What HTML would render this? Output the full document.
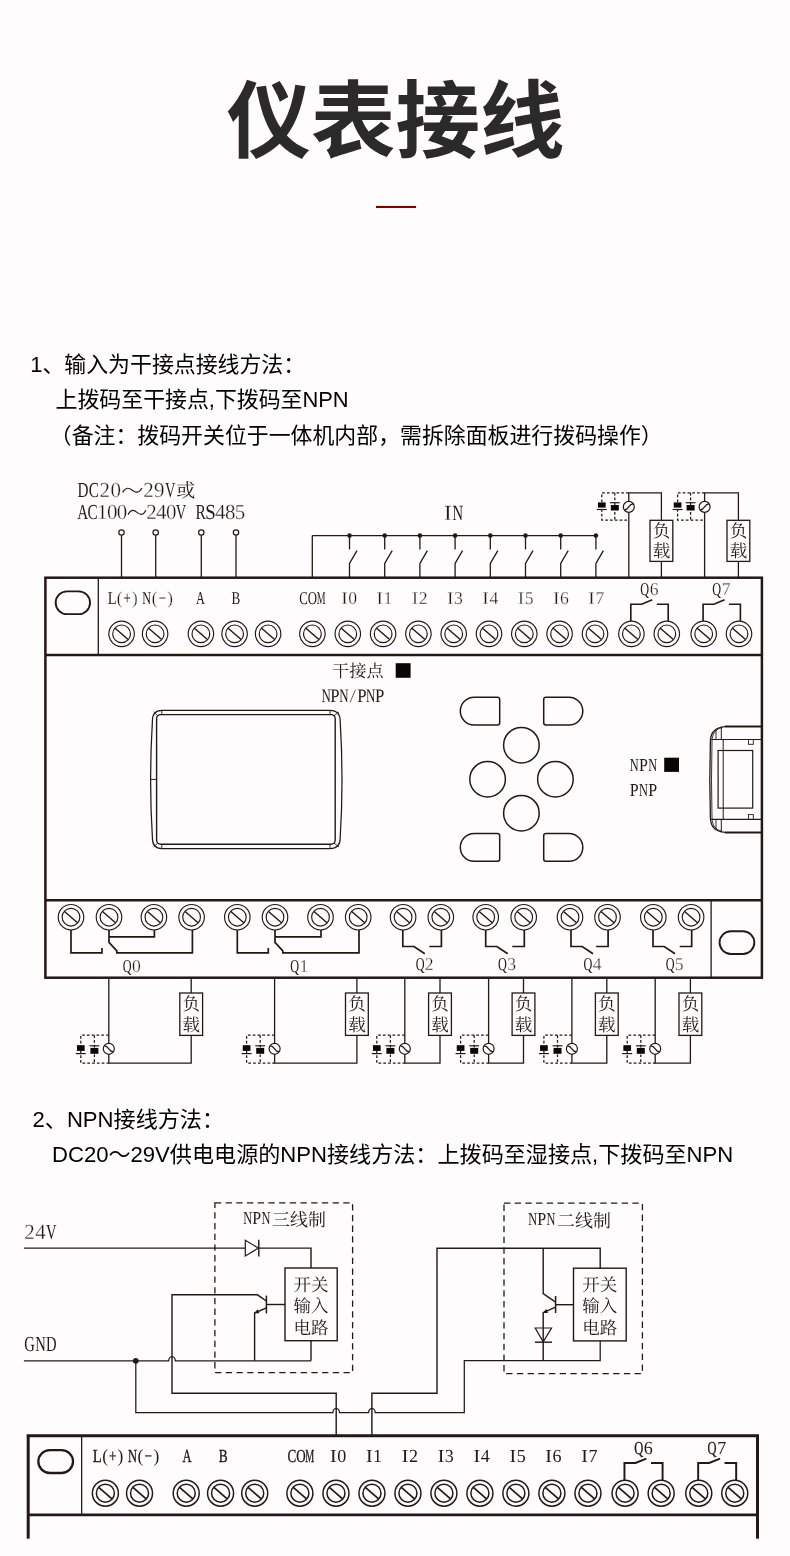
<!DOCTYPE html>
<html lang="zh-CN">
<head>
<meta charset="utf-8">
<title>仪表接线</title>
<style>
html,body{margin:0;padding:0;background:#fefcfd}
body{position:relative;width:790px;height:1556px;overflow:hidden;font-family:"Liberation Sans","Noto Sans CJK SC",sans-serif}
svg{position:absolute;left:0;top:0;display:block}
.lt{font-family:"Liberation Serif",serif;fill:#231815;stroke:none;text-rendering:geometricPrecision}
.cj{font-family:"Liberation Serif","Noto Serif CJK SC",serif;fill:#231815;stroke:none;text-rendering:geometricPrecision}
svg{will-change:transform}
.hv{stroke:#231815;stroke-width:.35px}
.th{stroke:#fefcfd;stroke-width:.28px}
.ln,.ttl{position:absolute;margin:0;padding:0;line-height:1;white-space:nowrap;font-weight:normal;color:#000;font-family:"Liberation Sans","Noto Sans CJK SC",sans-serif;z-index:2}
.ttl{font-weight:bold;color:#2b2a2a}
</style>
</head>
<body>
<h1 class="ttl" style="left:226.62px;top:79.84px;font-size:84.5px;width:340.2px">仪表接线</h1>
<h2 class="ln" style="left:30.27px;top:354.23px;font-size:21.9px;width:278.95px">1、输入为干接点接线方法：</h2>
<p class="ln" style="left:55.58px;top:389.43px;font-size:21.9px;width:296.52px">上拨码至干接点,下拨码至NPN</p>
<p class="ln" style="left:49.78px;top:424.53px;font-size:21.9px;width:617.2px">（备注：拨码开关位于一体机内部，需拆除面板进行拨码操作）</p>
<h2 class="ln" style="left:32.52px;top:1108.95px;font-size:22.1px;width:194.81px">2、NPN接线方法：</h2>
<p class="ln" style="left:51.97px;top:1144.45px;font-size:22.1px;width:679.31px">DC20～29V供电电源的NPN接线方法：上拨码至湿接点,下拨码至NPN</p>
<svg width="790" height="1556" viewBox="0 0 790 1556" fill="none" stroke="#231815" stroke-linecap="butt" stroke-linejoin="miter">
<g id="dev1">
<rect x="45.4" y="577.7" width="716.5" height="400" rx="0" stroke-width="2.5"/>
<line x1="45.4" y1="655.1" x2="761.9" y2="655.1" stroke-width="2.5"/>
<line x1="45.4" y1="900.2" x2="761.9" y2="900.2" stroke-width="2.5"/>
<circle cx="121.6" cy="633.8" r="12.75" stroke-width="1.15"/>
<circle cx="121.6" cy="633.8" r="8.85" stroke-width="1.15"/>
<line x1="115.11" y1="628.16" x2="128.09" y2="639.44" stroke-width="1.4"/>
<circle cx="155.1" cy="633.8" r="12.75" stroke-width="1.15"/>
<circle cx="155.1" cy="633.8" r="8.85" stroke-width="1.15"/>
<line x1="148.61" y1="628.16" x2="161.59" y2="639.44" stroke-width="1.4"/>
<circle cx="200.9" cy="633.8" r="12.75" stroke-width="1.15"/>
<circle cx="200.9" cy="633.8" r="8.85" stroke-width="1.15"/>
<line x1="194.41" y1="628.16" x2="207.39" y2="639.44" stroke-width="1.4"/>
<circle cx="234.6" cy="633.8" r="12.75" stroke-width="1.15"/>
<circle cx="234.6" cy="633.8" r="8.85" stroke-width="1.15"/>
<line x1="228.11" y1="628.16" x2="241.09" y2="639.44" stroke-width="1.4"/>
<circle cx="268.1" cy="633.8" r="12.75" stroke-width="1.15"/>
<circle cx="268.1" cy="633.8" r="8.85" stroke-width="1.15"/>
<line x1="261.61" y1="628.16" x2="274.59" y2="639.44" stroke-width="1.4"/>
<circle cx="312.4" cy="633.8" r="12.75" stroke-width="1.15"/>
<circle cx="312.4" cy="633.8" r="8.85" stroke-width="1.15"/>
<line x1="305.91" y1="628.16" x2="318.89" y2="639.44" stroke-width="1.4"/>
<circle cx="347.8" cy="633.8" r="12.75" stroke-width="1.15"/>
<circle cx="347.8" cy="633.8" r="8.85" stroke-width="1.15"/>
<line x1="341.31" y1="628.16" x2="354.29" y2="639.44" stroke-width="1.4"/>
<circle cx="383.1" cy="633.8" r="12.75" stroke-width="1.15"/>
<circle cx="383.1" cy="633.8" r="8.85" stroke-width="1.15"/>
<line x1="376.61" y1="628.16" x2="389.59" y2="639.44" stroke-width="1.4"/>
<circle cx="418.4" cy="633.8" r="12.75" stroke-width="1.15"/>
<circle cx="418.4" cy="633.8" r="8.85" stroke-width="1.15"/>
<line x1="411.91" y1="628.16" x2="424.89" y2="639.44" stroke-width="1.4"/>
<circle cx="453.7" cy="633.8" r="12.75" stroke-width="1.15"/>
<circle cx="453.7" cy="633.8" r="8.85" stroke-width="1.15"/>
<line x1="447.21" y1="628.16" x2="460.19" y2="639.44" stroke-width="1.4"/>
<circle cx="489" cy="633.8" r="12.75" stroke-width="1.15"/>
<circle cx="489" cy="633.8" r="8.85" stroke-width="1.15"/>
<line x1="482.51" y1="628.16" x2="495.49" y2="639.44" stroke-width="1.4"/>
<circle cx="524.3" cy="633.8" r="12.75" stroke-width="1.15"/>
<circle cx="524.3" cy="633.8" r="8.85" stroke-width="1.15"/>
<line x1="517.81" y1="628.16" x2="530.79" y2="639.44" stroke-width="1.4"/>
<circle cx="559.6" cy="633.8" r="12.75" stroke-width="1.15"/>
<circle cx="559.6" cy="633.8" r="8.85" stroke-width="1.15"/>
<line x1="553.11" y1="628.16" x2="566.09" y2="639.44" stroke-width="1.4"/>
<circle cx="595" cy="633.8" r="12.75" stroke-width="1.15"/>
<circle cx="595" cy="633.8" r="8.85" stroke-width="1.15"/>
<line x1="588.51" y1="628.16" x2="601.49" y2="639.44" stroke-width="1.4"/>
<circle cx="631.4" cy="633.8" r="12.75" stroke-width="1.15"/>
<circle cx="631.4" cy="633.8" r="8.85" stroke-width="1.15"/>
<line x1="624.91" y1="628.16" x2="637.89" y2="639.44" stroke-width="1.4"/>
<circle cx="666.8" cy="633.8" r="12.75" stroke-width="1.15"/>
<circle cx="666.8" cy="633.8" r="8.85" stroke-width="1.15"/>
<line x1="660.31" y1="628.16" x2="673.29" y2="639.44" stroke-width="1.4"/>
<circle cx="703.7" cy="633.8" r="12.75" stroke-width="1.15"/>
<circle cx="703.7" cy="633.8" r="8.85" stroke-width="1.15"/>
<line x1="697.21" y1="628.16" x2="710.19" y2="639.44" stroke-width="1.4"/>
<circle cx="739" cy="633.8" r="12.75" stroke-width="1.15"/>
<circle cx="739" cy="633.8" r="8.85" stroke-width="1.15"/>
<line x1="732.51" y1="628.16" x2="745.49" y2="639.44" stroke-width="1.4"/>
<line x1="98.3" y1="577.7" x2="98.3" y2="654" stroke-width="1.3"/>
<rect x="55.65" y="591.35" width="34.4" height="22.8" rx="11.4" stroke-width="1.9"/>
<g><text transform="scale(0.8,1)" x="140.22" y="603.6" font-size="18" text-anchor="middle" class="lt">L</text><text transform="scale(0.95,1)" x="126.03" y="603.6" font-size="18" text-anchor="middle" class="lt th">(</text><text transform="scale(0.72,1)" x="176.77" y="603.6" font-size="18" text-anchor="middle" class="lt">+</text><text transform="scale(0.95,1)" x="141.92" y="603.6" font-size="18" text-anchor="middle" class="lt th">)</text></g>
<g><text transform="scale(0.68,1)" x="215.74" y="603.6" font-size="18" text-anchor="middle" class="lt">N</text><text transform="scale(0.95,1)" x="162.63" y="603.6" font-size="18" text-anchor="middle" class="lt th">(</text><text transform="scale(0.72,1)" x="225.42" y="603.6" font-size="18" text-anchor="middle" class="lt">−</text><text transform="scale(0.95,1)" x="179.05" y="603.6" font-size="18" text-anchor="middle" class="lt th">)</text></g>
<text transform="scale(0.68,1)" x="294.85" y="603.6" font-size="18" text-anchor="middle" class="lt">A</text>
<text transform="scale(0.73,1)" x="323.29" y="603.6" font-size="18" text-anchor="middle" class="lt">B</text>
<g><text transform="scale(0.71,1)" x="427.61 440" y="603.6" font-size="18" text-anchor="middle" class="lt">CO</text><text transform="scale(0.55,1)" x="584" y="603.6" font-size="18" text-anchor="middle" class="lt">M</text></g>
<g><text transform="scale(1.08,1)" x="318.89" y="603.6" font-size="18" text-anchor="middle" class="lt th">I</text><text transform="scale(0.98,1)" x="359.8" y="603.6" font-size="18" text-anchor="middle" class="lt th">0</text></g>
<g><text transform="scale(1.08,1)" x="351.57" y="603.6" font-size="18" text-anchor="middle" class="lt th">I</text><text transform="scale(0.98,1)" x="395.82" y="603.6" font-size="18" text-anchor="middle" class="lt th">1</text></g>
<g><text transform="scale(1.08,1)" x="384.26" y="603.6" font-size="18" text-anchor="middle" class="lt th">I</text><text transform="scale(0.98,1)" x="431.84" y="603.6" font-size="18" text-anchor="middle" class="lt th">2</text></g>
<g><text transform="scale(1.08,1)" x="416.94" y="603.6" font-size="18" text-anchor="middle" class="lt th">I</text><text transform="scale(0.98,1)" x="467.86" y="603.6" font-size="18" text-anchor="middle" class="lt th">3</text></g>
<g><text transform="scale(1.08,1)" x="449.63" y="603.6" font-size="18" text-anchor="middle" class="lt th">I</text><text transform="scale(0.98,1)" x="503.88" y="603.6" font-size="18" text-anchor="middle" class="lt th">4</text></g>
<g><text transform="scale(1.08,1)" x="482.31" y="603.6" font-size="18" text-anchor="middle" class="lt th">I</text><text transform="scale(0.98,1)" x="539.9" y="603.6" font-size="18" text-anchor="middle" class="lt th">5</text></g>
<g><text transform="scale(1.08,1)" x="515" y="603.6" font-size="18" text-anchor="middle" class="lt th">I</text><text transform="scale(0.98,1)" x="575.92" y="603.6" font-size="18" text-anchor="middle" class="lt th">6</text></g>
<g><text transform="scale(1.08,1)" x="547.78" y="603.6" font-size="18" text-anchor="middle" class="lt th">I</text><text transform="scale(0.98,1)" x="612.04" y="603.6" font-size="18" text-anchor="middle" class="lt th">7</text></g>
<g><text transform="scale(0.68,1)" x="948.16" y="595.4" font-size="18" text-anchor="middle" class="lt">Q</text><text transform="scale(0.98,1)" x="667.6" y="595.4" font-size="18" text-anchor="middle" class="lt th">6</text></g>
<g><text transform="scale(0.68,1)" x="1054.04" y="595.4" font-size="18" text-anchor="middle" class="lt">Q</text><text transform="scale(0.98,1)" x="741.07" y="595.4" font-size="18" text-anchor="middle" class="lt th">7</text></g>
<polyline points="630.8,621 630.8,604.2 641.6,604.2 652.3,599.8" stroke-width="1.65"/>
<polyline points="656.8,604.2 668.2,604.2 668.2,621" stroke-width="1.65"/>
<polyline points="703.1,621 703.1,604.2 713.9,604.2 724.6,599.8" stroke-width="1.65"/>
<polyline points="729,604.2 740.4,604.2 740.4,621" stroke-width="1.65"/>
<circle cx="121.5" cy="532.5" r="2.7" stroke-width="1.2"/>
<line x1="121.5" y1="535.3" x2="121.5" y2="577.7" stroke-width="1.3"/>
<circle cx="155.7" cy="532.5" r="2.7" stroke-width="1.2"/>
<line x1="155.7" y1="535.3" x2="155.7" y2="577.7" stroke-width="1.3"/>
<circle cx="201.3" cy="532.5" r="2.7" stroke-width="1.2"/>
<line x1="201.3" y1="535.3" x2="201.3" y2="577.7" stroke-width="1.3"/>
<circle cx="236" cy="532.5" r="2.7" stroke-width="1.2"/>
<line x1="236" y1="535.3" x2="236" y2="577.7" stroke-width="1.3"/>
<line x1="312.3" y1="535.6" x2="595.9" y2="535.6" stroke-width="1.3"/>
<line x1="312.3" y1="535.6" x2="312.3" y2="577.7" stroke-width="1.3"/>
<circle cx="349.5" cy="535.6" r="2.3" fill="#231815" stroke="none"/>
<line x1="349.5" y1="535.6" x2="349.5" y2="549.4" stroke-width="1.3"/>
<polyline points="357,550.6 349.5,563.4 349.5,577.7" stroke-width="1.3"/>
<circle cx="384.7" cy="535.6" r="2.3" fill="#231815" stroke="none"/>
<line x1="384.7" y1="535.6" x2="384.7" y2="549.4" stroke-width="1.3"/>
<polyline points="392.2,550.6 384.7,563.4 384.7,577.7" stroke-width="1.3"/>
<circle cx="419.9" cy="535.6" r="2.3" fill="#231815" stroke="none"/>
<line x1="419.9" y1="535.6" x2="419.9" y2="549.4" stroke-width="1.3"/>
<polyline points="427.4,550.6 419.9,563.4 419.9,577.7" stroke-width="1.3"/>
<circle cx="455.1" cy="535.6" r="2.3" fill="#231815" stroke="none"/>
<line x1="455.1" y1="535.6" x2="455.1" y2="549.4" stroke-width="1.3"/>
<polyline points="462.6,550.6 455.1,563.4 455.1,577.7" stroke-width="1.3"/>
<circle cx="490.3" cy="535.6" r="2.3" fill="#231815" stroke="none"/>
<line x1="490.3" y1="535.6" x2="490.3" y2="549.4" stroke-width="1.3"/>
<polyline points="497.8,550.6 490.3,563.4 490.3,577.7" stroke-width="1.3"/>
<circle cx="525.5" cy="535.6" r="2.3" fill="#231815" stroke="none"/>
<line x1="525.5" y1="535.6" x2="525.5" y2="549.4" stroke-width="1.3"/>
<polyline points="533,550.6 525.5,563.4 525.5,577.7" stroke-width="1.3"/>
<circle cx="560.7" cy="535.6" r="2.3" fill="#231815" stroke="none"/>
<line x1="560.7" y1="535.6" x2="560.7" y2="549.4" stroke-width="1.3"/>
<polyline points="568.2,550.6 560.7,563.4 560.7,577.7" stroke-width="1.3"/>
<circle cx="595.9" cy="535.6" r="2.3" fill="#231815" stroke="none"/>
<line x1="595.9" y1="535.6" x2="595.9" y2="549.4" stroke-width="1.3"/>
<polyline points="603.4,550.6 595.9,563.4 595.9,577.7" stroke-width="1.3"/>
<polyline points="628.8,577.7 628.8,492.8 661.4,492.8 661.4,577.7" stroke-width="1.3"/>
<polyline points="628.8,492.8 601.8,492.8 601.8,520 628.8,520" stroke-width="1.25" stroke-dasharray="2.7 2.1"/>
<line x1="614.8" y1="492.8" x2="614.8" y2="520" stroke-width="1.25" stroke-dasharray="2.7 2.1"/>
<rect x="597.95" y="502.4" width="7.7" height="5.2" fill="#0d0505" stroke="none"/>
<line x1="596.8" y1="509.5" x2="606.8" y2="509.5" stroke-width="1.2"/>
<line x1="609.9" y1="502.7" x2="619.7" y2="502.7" stroke-width="1.2"/>
<rect x="610.8" y="505" width="8" height="5.5" fill="#0d0505" stroke="none"/>
<circle cx="628.8" cy="506.9" r="5.5" fill="#fefcfd" stroke-width="1.2"/>
<path d="M624.1,509.8 C629.1,510.5 628.5,503.3 633.5,504" stroke-width="1.25"/>
<rect x="650" y="520.3" width="22.8" height="41.1" fill="#fefcfd" stroke-width="1.3"/>
<g><text x="661.4" y="536.7" font-size="17.5" text-anchor="middle" class="cj">负</text><text x="661.4" y="557.2" font-size="17.5" text-anchor="middle" class="cj">载</text></g>
<polyline points="704.6,577.7 704.6,492.8 738.4,492.8 738.4,577.7" stroke-width="1.3"/>
<polyline points="704.6,492.8 677.6,492.8 677.6,520 704.6,520" stroke-width="1.25" stroke-dasharray="2.7 2.1"/>
<line x1="690.6" y1="492.8" x2="690.6" y2="520" stroke-width="1.25" stroke-dasharray="2.7 2.1"/>
<rect x="673.75" y="502.4" width="7.7" height="5.2" fill="#0d0505" stroke="none"/>
<line x1="672.6" y1="509.5" x2="682.6" y2="509.5" stroke-width="1.2"/>
<line x1="685.7" y1="502.7" x2="695.5" y2="502.7" stroke-width="1.2"/>
<rect x="686.6" y="505" width="8" height="5.5" fill="#0d0505" stroke="none"/>
<circle cx="704.6" cy="506.9" r="5.5" fill="#fefcfd" stroke-width="1.2"/>
<path d="M699.9,509.8 C704.9,510.5 704.3,503.3 709.3,504" stroke-width="1.25"/>
<rect x="727" y="520.3" width="22.8" height="41.1" fill="#fefcfd" stroke-width="1.3"/>
<g><text x="738.4" y="536.7" font-size="17.5" text-anchor="middle" class="cj">负</text><text x="738.4" y="557.2" font-size="17.5" text-anchor="middle" class="cj">载</text></g>
<path d="M161.8,710.3 L330,710.3 Q340.4,710.3 340.2,721.3 Q343.8,779.4 340.2,837.5 Q340.4,848.5 330,848.5 L161.8,848.5 Q152.2,848.5 152.4,837.5 Q148.8,779.4 152.4,721.3 Q152.2,710.3 161.8,710.3 Z" stroke-width="1.25"/>
<rect x="156.6" y="714.6" width="178.6" height="129.7" rx="4.2" stroke-width="1.4"/>
<line x1="157.8" y1="715.8" x2="153.6" y2="711.9" stroke-width="0.9"/>
<line x1="161.8" y1="710.3" x2="161.8" y2="714.6" stroke-width="0.9"/>
<line x1="157.8" y1="843.1" x2="153.6" y2="846.9" stroke-width="0.9"/>
<line x1="161.8" y1="848.5" x2="161.8" y2="844.3" stroke-width="0.9"/>
<line x1="334" y1="715.8" x2="339" y2="711.9" stroke-width="0.9"/>
<line x1="330" y1="710.3" x2="330" y2="714.6" stroke-width="0.9"/>
<line x1="334" y1="843.1" x2="339" y2="846.9" stroke-width="0.9"/>
<line x1="330" y1="848.5" x2="330" y2="844.3" stroke-width="0.9"/>
<line x1="150.3" y1="779.4" x2="156.6" y2="779.4" stroke-width="1"/>
<text x="332" y="677.2" font-size="17.2" class="cj">干接点</text>
<rect x="395.7" y="663.2" width="14.9" height="14.6" fill="#0d0505" stroke="none"/>
<g><text transform="scale(0.68,1)" x="479.52" y="701.9" font-size="19" text-anchor="middle" class="lt">N</text><text transform="scale(0.88,1)" x="380.7" y="701.9" font-size="19" text-anchor="middle" class="lt">P</text><text transform="scale(0.68,1)" x="505.82" y="701.9" font-size="19" text-anchor="middle" class="lt">N</text><text transform="scale(1.25,1)" x="282.32" y="701.9" font-size="19" text-anchor="middle" class="lt th">/</text><text transform="scale(0.88,1)" x="411.19" y="701.9" font-size="19" text-anchor="middle" class="lt">P</text><text transform="scale(0.68,1)" x="545.27" y="701.9" font-size="19" text-anchor="middle" class="lt">N</text><text transform="scale(0.88,1)" x="431.51" y="701.9" font-size="19" text-anchor="middle" class="lt">P</text></g>
<g><text transform="scale(0.68,1)" x="932.65" y="770.8" font-size="18.2" text-anchor="middle" class="lt">N</text><text transform="scale(0.88,1)" x="731.14" y="770.8" font-size="18.2" text-anchor="middle" class="lt">P</text><text transform="scale(0.68,1)" x="959.71" y="770.8" font-size="18.2" text-anchor="middle" class="lt">N</text></g>
<rect x="664.2" y="757.7" width="14.8" height="14.2" fill="#0d0505" stroke="none"/>
<g><text transform="scale(0.88,1)" x="720.68" y="795.7" font-size="18.2" text-anchor="middle" class="lt">P</text><text transform="scale(0.68,1)" x="946.18" y="795.7" font-size="18.2" text-anchor="middle" class="lt">N</text><text transform="scale(0.88,1)" x="741.59" y="795.7" font-size="18.2" text-anchor="middle" class="lt">P</text></g>
<path d="M474.2,697.2 L497.5,697.2 Q499.7,697.2 499.7,699.4 L499.7,722.8 Q499.7,725 497.5,725 L474.2,725 A13.9,13.9 0 0 1 474.2,697.2 Z" stroke-width="1.5"/>
<path d="M568.9,697.2 L545.9,697.2 Q543.7,697.2 543.7,699.4 L543.7,722.8 Q543.7,725 545.9,725 L568.9,725 A13.9,13.9 0 0 0 568.9,697.2 Z" stroke-width="1.5"/>
<path d="M474.2,833.5 L497.5,833.5 Q499.7,833.5 499.7,835.7 L499.7,859.1 Q499.7,861.3 497.5,861.3 L474.2,861.3 A13.9,13.9 0 0 1 474.2,833.5 Z" stroke-width="1.5"/>
<path d="M568.9,833.5 L545.9,833.5 Q543.7,833.5 543.7,835.7 L543.7,859.1 Q543.7,861.3 545.9,861.3 L568.9,861.3 A13.9,13.9 0 0 0 568.9,833.5 Z" stroke-width="1.5"/>
<circle cx="521.4" cy="745.2" r="17.8" stroke-width="1.5"/>
<circle cx="487.6" cy="779.2" r="17.8" stroke-width="1.5"/>
<circle cx="555.4" cy="779.2" r="17.8" stroke-width="1.5"/>
<circle cx="521.4" cy="813.2" r="17.8" stroke-width="1.5"/>
<line x1="724.8" y1="726.6" x2="761.9" y2="726.6" stroke-width="2"/>
<line x1="724.8" y1="832.4" x2="761.9" y2="832.4" stroke-width="2"/>
<path d="M724.8,726.6 C715,727.5 710.6,733 710.4,741 Q709.2,779.5 710.4,818 C710.6,826 715,831.5 724.8,832.4" stroke-width="1.3"/>
<path d="M722,727.6 C715,729.5 712.3,734 712,741 Q711,779.5 712,818 C712.3,825 715,829.5 722,831.4" stroke-width="0.9"/>
<line x1="716" y1="729.5" x2="716" y2="739.5" stroke-width="0.9"/>
<line x1="716" y1="819.4" x2="716" y2="829.5" stroke-width="0.9"/>
<line x1="721.3" y1="727.2" x2="721.3" y2="739.5" stroke-width="1"/>
<line x1="721.3" y1="819.4" x2="721.3" y2="831.8" stroke-width="1"/>
<line x1="711.2" y1="739.5" x2="761.9" y2="739.5" stroke-width="1.1"/>
<line x1="711.2" y1="819.4" x2="761.9" y2="819.4" stroke-width="1.1"/>
<rect x="718.1" y="750.5" width="34.6" height="57.6" rx="0" stroke-width="1.2"/>
<line x1="723.2" y1="739.5" x2="723.2" y2="819.4" stroke-width="1"/>
<rect x="748.5" y="739.5" width="4.8" height="4.8" rx="0" stroke-width="0.9"/>
<rect x="748.5" y="814.6" width="4.8" height="4.8" rx="0" stroke-width="0.9"/>
<line x1="711.1" y1="900.2" x2="711.1" y2="977.7" stroke-width="1.3"/>
<rect x="719.55" y="931.25" width="34.8" height="22.7" rx="11.35" stroke-width="1.9"/>
<circle cx="71" cy="917.2" r="12.75" stroke-width="1.15"/>
<circle cx="71" cy="917.2" r="8.85" stroke-width="1.15"/>
<line x1="64.51" y1="911.56" x2="77.49" y2="922.84" stroke-width="1.4"/>
<circle cx="109" cy="917.2" r="12.75" stroke-width="1.15"/>
<circle cx="109" cy="917.2" r="8.85" stroke-width="1.15"/>
<line x1="102.51" y1="911.56" x2="115.49" y2="922.84" stroke-width="1.4"/>
<circle cx="153.9" cy="917.2" r="12.75" stroke-width="1.15"/>
<circle cx="153.9" cy="917.2" r="8.85" stroke-width="1.15"/>
<line x1="147.41" y1="911.56" x2="160.39" y2="922.84" stroke-width="1.4"/>
<circle cx="191.6" cy="917.2" r="12.75" stroke-width="1.15"/>
<circle cx="191.6" cy="917.2" r="8.85" stroke-width="1.15"/>
<line x1="185.11" y1="911.56" x2="198.09" y2="922.84" stroke-width="1.4"/>
<polyline points="71,930 71,952.8 102,952.8 102,948" stroke-width="1.7"/>
<polyline points="109,930 109,942.4 116.8,950.8 116.8,952.8 192.4,952.8 192.4,930" stroke-width="1.7"/>
<polyline points="109,936.8 154.4,936.8 154.4,930" stroke-width="1.7"/>
<circle cx="237.3" cy="917.2" r="12.75" stroke-width="1.15"/>
<circle cx="237.3" cy="917.2" r="8.85" stroke-width="1.15"/>
<line x1="230.81" y1="911.56" x2="243.79" y2="922.84" stroke-width="1.4"/>
<circle cx="275" cy="917.2" r="12.75" stroke-width="1.15"/>
<circle cx="275" cy="917.2" r="8.85" stroke-width="1.15"/>
<line x1="268.51" y1="911.56" x2="281.49" y2="922.84" stroke-width="1.4"/>
<circle cx="320.5" cy="917.2" r="12.75" stroke-width="1.15"/>
<circle cx="320.5" cy="917.2" r="8.85" stroke-width="1.15"/>
<line x1="314.01" y1="911.56" x2="326.99" y2="922.84" stroke-width="1.4"/>
<circle cx="358.2" cy="917.2" r="12.75" stroke-width="1.15"/>
<circle cx="358.2" cy="917.2" r="8.85" stroke-width="1.15"/>
<line x1="351.71" y1="911.56" x2="364.69" y2="922.84" stroke-width="1.4"/>
<polyline points="237.3,930 237.3,952.8 268.3,952.8 268.3,948" stroke-width="1.7"/>
<polyline points="275,930 275,942.4 282.8,950.8 282.8,952.8 359,952.8 359,930" stroke-width="1.7"/>
<polyline points="275,936.8 321,936.8 321,930" stroke-width="1.7"/>
<g><text transform="scale(0.68,1)" x="186.91" y="971.6" font-size="18" text-anchor="middle" class="lt">Q</text><text transform="scale(0.98,1)" x="139.29" y="971.6" font-size="18" text-anchor="middle" class="lt th">0</text></g>
<g><text transform="scale(0.68,1)" x="433.31" y="971.6" font-size="18" text-anchor="middle" class="lt">Q</text><text transform="scale(0.98,1)" x="310.15" y="971.6" font-size="18" text-anchor="middle" class="lt th">1</text></g>
<circle cx="403.1" cy="917.2" r="12.75" stroke-width="1.15"/>
<circle cx="403.1" cy="917.2" r="8.85" stroke-width="1.15"/>
<line x1="396.61" y1="911.56" x2="409.59" y2="922.84" stroke-width="1.4"/>
<circle cx="440.8" cy="917.2" r="12.75" stroke-width="1.15"/>
<circle cx="440.8" cy="917.2" r="8.85" stroke-width="1.15"/>
<line x1="434.31" y1="911.56" x2="447.29" y2="922.84" stroke-width="1.4"/>
<polyline points="402.8,930 402.8,946.5 414,946.5 424.8,953.8" stroke-width="1.7"/>
<polyline points="429.4,946.5 441.4,946.5 441.4,930" stroke-width="1.7"/>
<g><text transform="scale(0.68,1)" x="617.83" y="970" font-size="18" text-anchor="middle" class="lt">Q</text><text transform="scale(0.98,1)" x="437.93" y="970" font-size="18" text-anchor="middle" class="lt th">2</text></g>
<circle cx="485.7" cy="917.2" r="12.75" stroke-width="1.15"/>
<circle cx="485.7" cy="917.2" r="8.85" stroke-width="1.15"/>
<line x1="479.21" y1="911.56" x2="492.19" y2="922.84" stroke-width="1.4"/>
<circle cx="523.7" cy="917.2" r="12.75" stroke-width="1.15"/>
<circle cx="523.7" cy="917.2" r="8.85" stroke-width="1.15"/>
<line x1="517.21" y1="911.56" x2="530.19" y2="922.84" stroke-width="1.4"/>
<polyline points="485.7,930 485.7,946.5 496.9,946.5 507.7,953.8" stroke-width="1.7"/>
<polyline points="512.3,946.5 524.3,946.5 524.3,930" stroke-width="1.7"/>
<g><text transform="scale(0.68,1)" x="738.9" y="970" font-size="18" text-anchor="middle" class="lt">Q</text><text transform="scale(0.98,1)" x="521.99" y="970" font-size="18" text-anchor="middle" class="lt th">3</text></g>
<circle cx="570" cy="917.2" r="12.75" stroke-width="1.15"/>
<circle cx="570" cy="917.2" r="8.85" stroke-width="1.15"/>
<line x1="563.51" y1="911.56" x2="576.49" y2="922.84" stroke-width="1.4"/>
<circle cx="607.5" cy="917.2" r="12.75" stroke-width="1.15"/>
<circle cx="607.5" cy="917.2" r="8.85" stroke-width="1.15"/>
<line x1="601.01" y1="911.56" x2="613.99" y2="922.84" stroke-width="1.4"/>
<polyline points="571,930 571,946.5 582.2,946.5 593,953.8" stroke-width="1.7"/>
<polyline points="596.1,946.5 608.1,946.5 608.1,930" stroke-width="1.7"/>
<g><text transform="scale(0.68,1)" x="864.56" y="970" font-size="18" text-anchor="middle" class="lt">Q</text><text transform="scale(0.98,1)" x="609.29" y="970" font-size="18" text-anchor="middle" class="lt th">4</text></g>
<circle cx="653.3" cy="917.2" r="12.75" stroke-width="1.15"/>
<circle cx="653.3" cy="917.2" r="8.85" stroke-width="1.15"/>
<line x1="646.81" y1="911.56" x2="659.79" y2="922.84" stroke-width="1.4"/>
<circle cx="691.1" cy="917.2" r="12.75" stroke-width="1.15"/>
<circle cx="691.1" cy="917.2" r="8.85" stroke-width="1.15"/>
<line x1="684.61" y1="911.56" x2="697.59" y2="922.84" stroke-width="1.4"/>
<polyline points="653,930 653,946.5 664.2,946.5 675,953.8" stroke-width="1.7"/>
<polyline points="679.7,946.5 691.7,946.5 691.7,930" stroke-width="1.7"/>
<g><text transform="scale(0.68,1)" x="985.62" y="970" font-size="18" text-anchor="middle" class="lt">Q</text><text transform="scale(0.98,1)" x="693.14" y="970" font-size="18" text-anchor="middle" class="lt th">5</text></g>
<polyline points="108.8,977.7 108.8,1063.1 191.2,1063.1 191.2,977.7" stroke-width="1.3"/>
<polyline points="108.8,1035.2 80.8,1035.2 80.8,1063.1 108.8,1063.1" stroke-width="1.25" stroke-dasharray="2.7 2.1"/>
<line x1="94.4" y1="1035.2" x2="94.4" y2="1063.1" stroke-width="1.25" stroke-dasharray="2.7 2.1"/>
<rect x="76.95" y="1045.2" width="7.7" height="5.7" fill="#0d0505" stroke="none"/>
<line x1="75.8" y1="1053.6" x2="85.8" y2="1053.6" stroke-width="1.2"/>
<line x1="89.5" y1="1045.8" x2="99.3" y2="1045.8" stroke-width="1.2"/>
<rect x="90.4" y="1047.9" width="8" height="5.9" fill="#0d0505" stroke="none"/>
<circle cx="108.8" cy="1048.8" r="5.5" fill="#fefcfd" stroke-width="1.2"/>
<path d="M104.1,1045.9 C109.1,1045.2 108.5,1052.4 113.5,1051.7" stroke-width="1.25"/>
<rect x="179.8" y="993" width="22.8" height="42.4" fill="#fefcfd" stroke-width="1.3"/>
<g><text x="191.2" y="1009.8" font-size="17.5" text-anchor="middle" class="cj">负</text><text x="191.2" y="1030.7" font-size="17.5" text-anchor="middle" class="cj">载</text></g>
<polyline points="274.6,977.7 274.6,1063.1 356.9,1063.1 356.9,977.7" stroke-width="1.3"/>
<polyline points="274.6,1035.2 246.6,1035.2 246.6,1063.1 274.6,1063.1" stroke-width="1.25" stroke-dasharray="2.7 2.1"/>
<line x1="260.2" y1="1035.2" x2="260.2" y2="1063.1" stroke-width="1.25" stroke-dasharray="2.7 2.1"/>
<rect x="242.75" y="1045.2" width="7.7" height="5.7" fill="#0d0505" stroke="none"/>
<line x1="241.6" y1="1053.6" x2="251.6" y2="1053.6" stroke-width="1.2"/>
<line x1="255.3" y1="1045.8" x2="265.1" y2="1045.8" stroke-width="1.2"/>
<rect x="256.2" y="1047.9" width="8" height="5.9" fill="#0d0505" stroke="none"/>
<circle cx="274.6" cy="1048.8" r="5.5" fill="#fefcfd" stroke-width="1.2"/>
<path d="M269.9,1045.9 C274.9,1045.2 274.3,1052.4 279.3,1051.7" stroke-width="1.25"/>
<rect x="345.5" y="993" width="22.8" height="42.4" fill="#fefcfd" stroke-width="1.3"/>
<g><text x="356.9" y="1009.8" font-size="17.5" text-anchor="middle" class="cj">负</text><text x="356.9" y="1030.7" font-size="17.5" text-anchor="middle" class="cj">载</text></g>
<polyline points="404.8,977.7 404.8,1063.1 440,1063.1 440,977.7" stroke-width="1.3"/>
<polyline points="404.8,1035.2 376.8,1035.2 376.8,1063.1 404.8,1063.1" stroke-width="1.25" stroke-dasharray="2.7 2.1"/>
<line x1="390.4" y1="1035.2" x2="390.4" y2="1063.1" stroke-width="1.25" stroke-dasharray="2.7 2.1"/>
<rect x="372.95" y="1045.2" width="7.7" height="5.7" fill="#0d0505" stroke="none"/>
<line x1="371.8" y1="1053.6" x2="381.8" y2="1053.6" stroke-width="1.2"/>
<line x1="385.5" y1="1045.8" x2="395.3" y2="1045.8" stroke-width="1.2"/>
<rect x="386.4" y="1047.9" width="8" height="5.9" fill="#0d0505" stroke="none"/>
<circle cx="404.8" cy="1048.8" r="5.5" fill="#fefcfd" stroke-width="1.2"/>
<path d="M400.1,1045.9 C405.1,1045.2 404.5,1052.4 409.5,1051.7" stroke-width="1.25"/>
<rect x="428.6" y="993" width="22.8" height="42.4" fill="#fefcfd" stroke-width="1.3"/>
<g><text x="440" y="1009.8" font-size="17.5" text-anchor="middle" class="cj">负</text><text x="440" y="1030.7" font-size="17.5" text-anchor="middle" class="cj">载</text></g>
<polyline points="488.6,977.7 488.6,1063.1 523.5,1063.1 523.5,977.7" stroke-width="1.3"/>
<polyline points="488.6,1035.2 460.6,1035.2 460.6,1063.1 488.6,1063.1" stroke-width="1.25" stroke-dasharray="2.7 2.1"/>
<line x1="474.2" y1="1035.2" x2="474.2" y2="1063.1" stroke-width="1.25" stroke-dasharray="2.7 2.1"/>
<rect x="456.75" y="1045.2" width="7.7" height="5.7" fill="#0d0505" stroke="none"/>
<line x1="455.6" y1="1053.6" x2="465.6" y2="1053.6" stroke-width="1.2"/>
<line x1="469.3" y1="1045.8" x2="479.1" y2="1045.8" stroke-width="1.2"/>
<rect x="470.2" y="1047.9" width="8" height="5.9" fill="#0d0505" stroke="none"/>
<circle cx="488.6" cy="1048.8" r="5.5" fill="#fefcfd" stroke-width="1.2"/>
<path d="M483.9,1045.9 C488.9,1045.2 488.3,1052.4 493.3,1051.7" stroke-width="1.25"/>
<rect x="512.1" y="993" width="22.8" height="42.4" fill="#fefcfd" stroke-width="1.3"/>
<g><text x="523.5" y="1009.8" font-size="17.5" text-anchor="middle" class="cj">负</text><text x="523.5" y="1030.7" font-size="17.5" text-anchor="middle" class="cj">载</text></g>
<polyline points="571.9,977.7 571.9,1063.1 606.8,1063.1 606.8,977.7" stroke-width="1.3"/>
<polyline points="571.9,1035.2 543.9,1035.2 543.9,1063.1 571.9,1063.1" stroke-width="1.25" stroke-dasharray="2.7 2.1"/>
<line x1="557.5" y1="1035.2" x2="557.5" y2="1063.1" stroke-width="1.25" stroke-dasharray="2.7 2.1"/>
<rect x="540.05" y="1045.2" width="7.7" height="5.7" fill="#0d0505" stroke="none"/>
<line x1="538.9" y1="1053.6" x2="548.9" y2="1053.6" stroke-width="1.2"/>
<line x1="552.6" y1="1045.8" x2="562.4" y2="1045.8" stroke-width="1.2"/>
<rect x="553.5" y="1047.9" width="8" height="5.9" fill="#0d0505" stroke="none"/>
<circle cx="571.9" cy="1048.8" r="5.5" fill="#fefcfd" stroke-width="1.2"/>
<path d="M567.2,1045.9 C572.2,1045.2 571.6,1052.4 576.6,1051.7" stroke-width="1.25"/>
<rect x="595.4" y="993" width="22.8" height="42.4" fill="#fefcfd" stroke-width="1.3"/>
<g><text x="606.8" y="1009.8" font-size="17.5" text-anchor="middle" class="cj">负</text><text x="606.8" y="1030.7" font-size="17.5" text-anchor="middle" class="cj">载</text></g>
<polyline points="655.2,977.7 655.2,1063.1 690.4,1063.1 690.4,977.7" stroke-width="1.3"/>
<polyline points="655.2,1035.2 627.2,1035.2 627.2,1063.1 655.2,1063.1" stroke-width="1.25" stroke-dasharray="2.7 2.1"/>
<line x1="640.8" y1="1035.2" x2="640.8" y2="1063.1" stroke-width="1.25" stroke-dasharray="2.7 2.1"/>
<rect x="623.35" y="1045.2" width="7.7" height="5.7" fill="#0d0505" stroke="none"/>
<line x1="622.2" y1="1053.6" x2="632.2" y2="1053.6" stroke-width="1.2"/>
<line x1="635.9" y1="1045.8" x2="645.7" y2="1045.8" stroke-width="1.2"/>
<rect x="636.8" y="1047.9" width="8" height="5.9" fill="#0d0505" stroke="none"/>
<circle cx="655.2" cy="1048.8" r="5.5" fill="#fefcfd" stroke-width="1.2"/>
<path d="M650.5,1045.9 C655.5,1045.2 654.9,1052.4 659.9,1051.7" stroke-width="1.25"/>
<rect x="679" y="993" width="22.8" height="42.4" fill="#fefcfd" stroke-width="1.3"/>
<g><text x="690.4" y="1009.8" font-size="17.5" text-anchor="middle" class="cj">负</text><text x="690.4" y="1030.7" font-size="17.5" text-anchor="middle" class="cj">载</text></g>
</g>
<g id="npn">
<g><text transform="scale(0.98,1)" x="30.24 41.33" y="1238.5" font-size="21.5" text-anchor="middle" class="lt th">24</text><text transform="scale(0.68,1)" x="75.54" y="1238.5" font-size="21.5" text-anchor="middle" class="lt">V</text></g>
<text transform="scale(0.68,1)" x="43.58 59.56 75.54" y="1350.6" font-size="21.5" text-anchor="middle" class="lt">GND</text>
<rect x="214.9" y="1202.8" width="137.7" height="169.8" rx="0" stroke-width="1.3" stroke-dasharray="6.3 4.4"/>
<line x1="23.9" y1="1248.1" x2="245.3" y2="1248.1" stroke-width="1.42"/>
<path d="M245.3,1240.2 L258.4,1248.1 L245.3,1256.0 Z" stroke-width="1.2"/>
<line x1="258.8" y1="1239.8" x2="258.8" y2="1256.4" stroke-width="1.42"/>
<polyline points="258.8,1248.1 311,1248.1 311,1268" stroke-width="1.42"/>
<rect x="285" y="1268" width="52.2" height="72.7" rx="0" stroke-width="1.4"/>
<polyline points="311,1340.7 311,1360.8" stroke-width="1.42"/>
<path d="M23.9,1360.8 L168.7,1360.8 A3.3,4.3 0 0 1 175.3,1360.8 L311,1360.8" stroke-width="1.25"/>
<circle cx="135.8" cy="1360.8" r="2.9" fill="#231815" stroke="none"/>
<line x1="266.4" y1="1295.6" x2="266.4" y2="1313.4" stroke-width="1.5"/>
<line x1="266.4" y1="1304.5" x2="285" y2="1304.5" stroke-width="1.42"/>
<polyline points="266.4,1301 257.4,1294.8 172,1294.8 172,1393.2 336.2,1393.2 336.2,1435.8" stroke-width="1.42"/>
<polyline points="266.4,1307.8 254.6,1313 254.6,1360.8" stroke-width="1.42"/>
<path d="M254,1313.3 L257.72,1309.35 L259.42,1313.19 Z" fill="#231815" stroke="none"/>
<path d="M135.8,1360.8 L135.8,1412.7 L332.9,1412.7 A3.3,4.3 0 0 1 339.5,1412.7 L368.6,1412.7 A3.3,4.3 0 0 1 375.2,1412.7 L464.3,1412.7 L464.3,1360.7 L600.2,1360.7 L600.2,1340.9" stroke-width="1.25"/>
<polyline points="371.9,1435.8 371.9,1393.2 437,1393.2 437,1248.2 600.2,1248.2 600.2,1268.2" stroke-width="1.42"/>
<rect x="504" y="1203.2" width="138.4" height="170.4" rx="0" stroke-width="1.3" stroke-dasharray="6.3 4.4"/>
<rect x="573.5" y="1268.2" width="52.7" height="72.7" rx="0" stroke-width="1.4"/>
<line x1="555.6" y1="1296" x2="555.6" y2="1313" stroke-width="1.5"/>
<line x1="555.6" y1="1304.7" x2="573.5" y2="1304.7" stroke-width="1.42"/>
<polyline points="543.2,1248.2 543.2,1293.6 555.6,1302.2" stroke-width="1.42"/>
<polyline points="555.6,1307.2 543.2,1312.6 543.2,1360.7" stroke-width="1.42"/>
<path d="M542.6,1313 L546.31,1309.05 L548.02,1312.88 Z" fill="#231815" stroke="none"/>
<path d="M535.2,1328.0 L551.6,1328.0 L543.2,1341.8 Z" stroke-width="1.2"/>
<line x1="535" y1="1342.2" x2="552" y2="1342.2" stroke-width="1.42"/>
<g><text x="310.9" y="1290.5" font-size="17.5" text-anchor="middle" class="cj">开关</text><text x="310.9" y="1312" font-size="17.5" text-anchor="middle" class="cj">输入</text><text x="310.9" y="1333.5" font-size="17.5" text-anchor="middle" class="cj">电路</text></g>
<g><text x="599.7" y="1290.7" font-size="17.5" text-anchor="middle" class="cj">开关</text><text x="599.7" y="1312.2" font-size="17.5" text-anchor="middle" class="cj">输入</text><text x="599.7" y="1333.7" font-size="17.5" text-anchor="middle" class="cj">电路</text></g>
<g><text transform="scale(0.68,1)" x="364.12" y="1224.4" font-size="18.2" text-anchor="middle" class="lt">N</text><text transform="scale(0.88,1)" x="291.82" y="1224.4" font-size="18.2" text-anchor="middle" class="lt">P</text><text transform="scale(0.68,1)" x="391.18" y="1224.4" font-size="18.2" text-anchor="middle" class="lt">N</text></g>
<text x="272" y="1226.2" font-size="18" class="cj">三线制</text>
<g><text transform="scale(0.68,1)" x="783.24" y="1224.8" font-size="18.2" text-anchor="middle" class="lt">N</text><text transform="scale(0.88,1)" x="615.68" y="1224.8" font-size="18.2" text-anchor="middle" class="lt">P</text><text transform="scale(0.68,1)" x="810.29" y="1224.8" font-size="18.2" text-anchor="middle" class="lt">N</text></g>
<text x="557" y="1226.6" font-size="18" class="cj">二线制</text>
</g>
<g id="dev2">
<line x1="26.7" y1="1435.8" x2="759" y2="1435.8" stroke-width="3"/>
<line x1="28.2" y1="1514.9" x2="757.5" y2="1514.9" stroke-width="2.6"/>
<line x1="28.2" y1="1435.8" x2="28.2" y2="1538.7" stroke-width="3"/>
<line x1="757.5" y1="1435.8" x2="757.5" y2="1538.7" stroke-width="3"/>
<circle cx="105.38" cy="1493.19" r="13" stroke-width="1.5"/>
<circle cx="105.38" cy="1493.19" r="9.02" stroke-width="1.5"/>
<line x1="98.76" y1="1487.44" x2="111.99" y2="1498.94" stroke-width="1.75"/>
<circle cx="139.53" cy="1493.19" r="13" stroke-width="1.5"/>
<circle cx="139.53" cy="1493.19" r="9.02" stroke-width="1.5"/>
<line x1="132.91" y1="1487.44" x2="146.14" y2="1498.94" stroke-width="1.75"/>
<circle cx="186.22" cy="1493.19" r="13" stroke-width="1.5"/>
<circle cx="186.22" cy="1493.19" r="9.02" stroke-width="1.5"/>
<line x1="179.6" y1="1487.44" x2="192.83" y2="1498.94" stroke-width="1.75"/>
<circle cx="220.57" cy="1493.19" r="13" stroke-width="1.5"/>
<circle cx="220.57" cy="1493.19" r="9.02" stroke-width="1.5"/>
<line x1="213.95" y1="1487.44" x2="227.19" y2="1498.94" stroke-width="1.75"/>
<circle cx="254.72" cy="1493.19" r="13" stroke-width="1.5"/>
<circle cx="254.72" cy="1493.19" r="9.02" stroke-width="1.5"/>
<line x1="248.1" y1="1487.44" x2="261.34" y2="1498.94" stroke-width="1.75"/>
<circle cx="299.88" cy="1493.19" r="13" stroke-width="1.5"/>
<circle cx="299.88" cy="1493.19" r="9.02" stroke-width="1.5"/>
<line x1="293.26" y1="1487.44" x2="306.5" y2="1498.94" stroke-width="1.75"/>
<circle cx="335.97" cy="1493.19" r="13" stroke-width="1.5"/>
<circle cx="335.97" cy="1493.19" r="9.02" stroke-width="1.5"/>
<line x1="329.35" y1="1487.44" x2="342.58" y2="1498.94" stroke-width="1.75"/>
<circle cx="371.95" cy="1493.19" r="13" stroke-width="1.5"/>
<circle cx="371.95" cy="1493.19" r="9.02" stroke-width="1.5"/>
<line x1="365.33" y1="1487.44" x2="378.57" y2="1498.94" stroke-width="1.75"/>
<circle cx="407.94" cy="1493.19" r="13" stroke-width="1.5"/>
<circle cx="407.94" cy="1493.19" r="9.02" stroke-width="1.5"/>
<line x1="401.32" y1="1487.44" x2="414.55" y2="1498.94" stroke-width="1.75"/>
<circle cx="443.92" cy="1493.19" r="13" stroke-width="1.5"/>
<circle cx="443.92" cy="1493.19" r="9.02" stroke-width="1.5"/>
<line x1="437.3" y1="1487.44" x2="450.54" y2="1498.94" stroke-width="1.75"/>
<circle cx="479.91" cy="1493.19" r="13" stroke-width="1.5"/>
<circle cx="479.91" cy="1493.19" r="9.02" stroke-width="1.5"/>
<line x1="473.29" y1="1487.44" x2="486.52" y2="1498.94" stroke-width="1.75"/>
<circle cx="515.89" cy="1493.19" r="13" stroke-width="1.5"/>
<circle cx="515.89" cy="1493.19" r="9.02" stroke-width="1.5"/>
<line x1="509.27" y1="1487.44" x2="522.51" y2="1498.94" stroke-width="1.75"/>
<circle cx="551.88" cy="1493.19" r="13" stroke-width="1.5"/>
<circle cx="551.88" cy="1493.19" r="9.02" stroke-width="1.5"/>
<line x1="545.26" y1="1487.44" x2="558.49" y2="1498.94" stroke-width="1.75"/>
<circle cx="587.96" cy="1493.19" r="13" stroke-width="1.5"/>
<circle cx="587.96" cy="1493.19" r="9.02" stroke-width="1.5"/>
<line x1="581.35" y1="1487.44" x2="594.58" y2="1498.94" stroke-width="1.75"/>
<circle cx="625.07" cy="1493.19" r="13" stroke-width="1.5"/>
<circle cx="625.07" cy="1493.19" r="9.02" stroke-width="1.5"/>
<line x1="618.45" y1="1487.44" x2="631.68" y2="1498.94" stroke-width="1.75"/>
<circle cx="661.16" cy="1493.19" r="13" stroke-width="1.5"/>
<circle cx="661.16" cy="1493.19" r="9.02" stroke-width="1.5"/>
<line x1="654.54" y1="1487.44" x2="667.77" y2="1498.94" stroke-width="1.75"/>
<circle cx="698.77" cy="1493.19" r="13" stroke-width="1.5"/>
<circle cx="698.77" cy="1493.19" r="9.02" stroke-width="1.5"/>
<line x1="692.15" y1="1487.44" x2="705.39" y2="1498.94" stroke-width="1.75"/>
<circle cx="734.76" cy="1493.19" r="13" stroke-width="1.5"/>
<circle cx="734.76" cy="1493.19" r="9.02" stroke-width="1.5"/>
<line x1="728.14" y1="1487.44" x2="741.37" y2="1498.94" stroke-width="1.75"/>
<line x1="81.63" y1="1436" x2="81.63" y2="1513.78" stroke-width="1.3"/>
<rect x="38.33" y="1450.1" width="34.7" height="22.88" rx="11.44" stroke-width="2.3"/>
<g><text transform="scale(0.8,1)" x="121.68" y="1462.4" font-size="18.4" text-anchor="middle" class="lt hv">L</text><text transform="scale(0.95,1)" x="110.57" y="1462.4" font-size="18.4" text-anchor="middle" class="lt">(</text><text transform="scale(0.72,1)" x="156.58" y="1462.4" font-size="18.4" text-anchor="middle" class="lt hv">+</text><text transform="scale(0.95,1)" x="126.77" y="1462.4" font-size="18.4" text-anchor="middle" class="lt">)</text></g>
<g><text transform="scale(0.68,1)" x="194.76" y="1462.4" font-size="18.4" text-anchor="middle" class="lt hv">N</text><text transform="scale(0.95,1)" x="147.78" y="1462.4" font-size="18.4" text-anchor="middle" class="lt">(</text><text transform="scale(0.72,1)" x="206.03" y="1462.4" font-size="18.4" text-anchor="middle" class="lt hv">−</text><text transform="scale(0.95,1)" x="164.52" y="1462.4" font-size="18.4" text-anchor="middle" class="lt">)</text></g>
<text transform="scale(0.68,1)" x="275.18" y="1462.4" font-size="18.4" text-anchor="middle" class="lt hv">A</text>
<text transform="scale(0.73,1)" x="305.76" y="1462.4" font-size="18.4" text-anchor="middle" class="lt hv">B</text>
<g><text transform="scale(0.71,1)" x="411.15 423.79" y="1462.4" font-size="18.4" text-anchor="middle" class="lt hv">CO</text><text transform="scale(0.55,1)" x="563.38" y="1462.4" font-size="18.4" text-anchor="middle" class="lt hv">M</text></g>
<g><text transform="scale(1.08,1)" x="308.69" y="1462.4" font-size="18.4" text-anchor="middle" class="lt">I</text><text transform="scale(0.98,1)" x="348.72" y="1462.4" font-size="18.4" text-anchor="middle" class="lt">0</text></g>
<g><text transform="scale(1.08,1)" x="341.92" y="1462.4" font-size="18.4" text-anchor="middle" class="lt">I</text><text transform="scale(0.98,1)" x="385.33" y="1462.4" font-size="18.4" text-anchor="middle" class="lt">1</text></g>
<g><text transform="scale(1.08,1)" x="375.14" y="1462.4" font-size="18.4" text-anchor="middle" class="lt">I</text><text transform="scale(0.98,1)" x="421.95" y="1462.4" font-size="18.4" text-anchor="middle" class="lt">2</text></g>
<g><text transform="scale(1.08,1)" x="408.36" y="1462.4" font-size="18.4" text-anchor="middle" class="lt">I</text><text transform="scale(0.98,1)" x="458.56" y="1462.4" font-size="18.4" text-anchor="middle" class="lt">3</text></g>
<g><text transform="scale(1.08,1)" x="441.58" y="1462.4" font-size="18.4" text-anchor="middle" class="lt">I</text><text transform="scale(0.98,1)" x="495.17" y="1462.4" font-size="18.4" text-anchor="middle" class="lt">4</text></g>
<g><text transform="scale(1.08,1)" x="474.81" y="1462.4" font-size="18.4" text-anchor="middle" class="lt">I</text><text transform="scale(0.98,1)" x="531.78" y="1462.4" font-size="18.4" text-anchor="middle" class="lt">5</text></g>
<g><text transform="scale(1.08,1)" x="508.03" y="1462.4" font-size="18.4" text-anchor="middle" class="lt">I</text><text transform="scale(0.98,1)" x="568.4" y="1462.4" font-size="18.4" text-anchor="middle" class="lt">6</text></g>
<g><text transform="scale(1.08,1)" x="541.34" y="1462.4" font-size="18.4" text-anchor="middle" class="lt">I</text><text transform="scale(0.98,1)" x="605.11" y="1462.4" font-size="18.4" text-anchor="middle" class="lt">7</text></g>
<g><text transform="scale(0.68,1)" x="939.23" y="1454.04" font-size="18.4" text-anchor="middle" class="lt hv">Q</text><text transform="scale(0.98,1)" x="661.59" y="1454.04" font-size="18.4" text-anchor="middle" class="lt">6</text></g>
<g><text transform="scale(0.68,1)" x="1047.17" y="1454.04" font-size="18.4" text-anchor="middle" class="lt hv">Q</text><text transform="scale(0.98,1)" x="736.49" y="1454.04" font-size="18.4" text-anchor="middle" class="lt">7</text></g>
<polyline points="624.46,1480.14 624.46,1463.01 635.47,1463.01 646.37,1458.53" stroke-width="1.95"/>
<polyline points="650.96,1463.01 662.58,1463.01 662.58,1480.14" stroke-width="1.95"/>
<polyline points="698.16,1480.14 698.16,1463.01 709.17,1463.01 720.08,1458.53" stroke-width="1.95"/>
<polyline points="724.56,1463.01 736.18,1463.01 736.18,1480.14" stroke-width="1.95"/>
</g>
<g id="txt">
<rect x="376" y="205.9" width="40.1" height="2.1" fill="#800000" stroke="none"/>
</g>
<g id="lbl-top">
<g><text transform="scale(0.71,1)" x="116.97 132.32" y="496.7" font-size="21.4" text-anchor="middle" class="lt">DC</text><text transform="scale(0.98,1)" x="106.99 118.11" y="496.7" font-size="21.4" text-anchor="middle" class="lt th">20</text></g>
<path d="M122.6,492.4 C125.9,486.8 129,487.6 132.3,490.2 S138.7,493.6 142,488" stroke-width="1.15"/>
<g><text transform="scale(0.98,1)" x="151.48 162.6" y="496.7" font-size="21.4" text-anchor="middle" class="lt th">29</text><text transform="scale(0.68,1)" x="250.37" y="496.7" font-size="21.4" text-anchor="middle" class="lt">V</text></g>
<text x="176.3" y="497" font-size="19" class="cj">或</text>
<g><text transform="scale(0.71,1)" x="116.5 130.35" y="518.9" font-size="21.4" text-anchor="middle" class="lt">AC</text><text transform="scale(0.98,1)" x="104.46 114.49 124.53" y="518.9" font-size="21.4" text-anchor="middle" class="lt th">100</text></g>
<path d="M128,514.6 C131.06,509 133.94,509.8 137,512.4 S142.94,515.8 146,510.2" stroke-width="1.15"/>
<g><text transform="scale(0.98,1)" x="154.62 164.65 174.68" y="518.9" font-size="21.4" text-anchor="middle" class="lt th">240</text><text transform="scale(0.68,1)" x="266.2" y="518.9" font-size="21.4" text-anchor="middle" class="lt">V</text></g>
<g><text transform="scale(0.73,1)" x="274.9" y="518.9" font-size="21.4" text-anchor="middle" class="lt">R</text><text transform="scale(0.88,1)" x="239.21" y="518.9" font-size="21.4" text-anchor="middle" class="lt">S</text><text transform="scale(0.98,1)" x="224.83 234.86 244.89" y="518.9" font-size="21.4" text-anchor="middle" class="lt th">485</text></g>
<g><text transform="scale(1.08,1)" x="414.77" y="519.9" font-size="21.6" text-anchor="middle" class="lt th">I</text><text transform="scale(0.68,1)" x="673.31" y="519.9" font-size="21.6" text-anchor="middle" class="lt">N</text></g>
</g>
</svg>
</body>
</html>
